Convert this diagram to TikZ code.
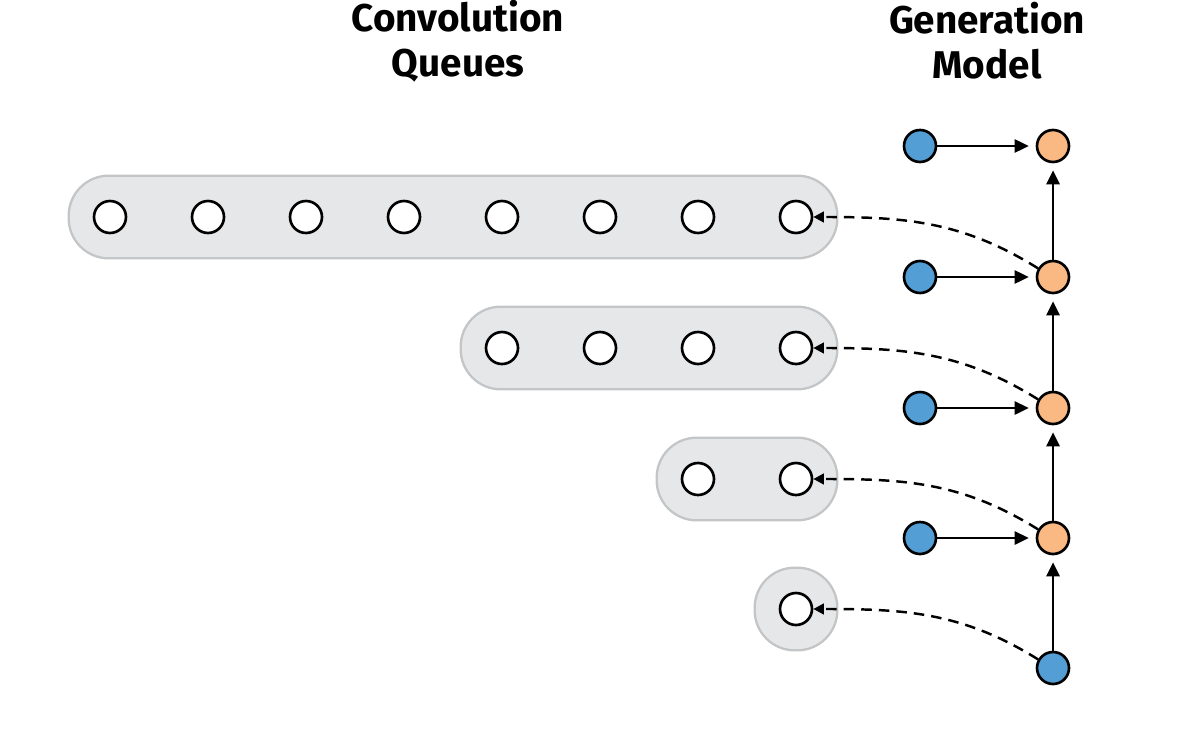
\documentclass[tikz,border=0pt]{standalone}
\usepackage{fontspec}
\setmainfont{Fira Sans}
\usetikzlibrary{arrows.meta, positioning, fit, backgrounds}
\definecolor{QF}{RGB}{230,231,233}
\definecolor{QE}{RGB}{196,197,199}
\definecolor{NB}{RGB}{84,158,214}
\definecolor{NO}{RGB}{250,184,130}

\begin{document}
\begin{tikzpicture}[
  cell/.style={draw=black, circle, fill=#1, minimum size=0.64cm,
               inner sep=0pt, line width=1.5pt},
  queue/.style={draw=QE, fill=QF, rounded corners=0.8cm,
                line width=1.3pt, inner sep=0.48cm},
  arr/.style={-{Triangle[length=8pt,width=7.5pt]}, line width=1.4pt,
              shorten >=4pt},
  carr/.style={-{Triangle[length=6pt,width=6pt]}, line width=1.4pt,
               dash pattern=on 6pt off 4pt},
  ttl/.style={font=\fontsize{22}{25.5}\selectfont\bfseries, align=center}
]
\useasboundingbox (0,0) rectangle (23.92,-15.1);

\node[ttl] (tq) at (9.16,-0.82)  {Convolution\\Queues};
\node[ttl] (tg) at (19.74,-0.82) {Generation\\Model};

% convolution queues
\foreach \i/\x in {1/2.2, 2/4.16, 3/6.12, 4/8.08, 5/10.04, 6/12.0, 7/13.96, 8/15.92}
  \node[cell=white] (qa\i) at (\x,-4.34) {};
\foreach \i/\x in {5/10.04, 6/12.0, 7/13.96, 8/15.92}
  \node[cell=white] (qb\i) at (\x,-6.96) {};
\foreach \i/\x in {7/13.96, 8/15.92}
  \node[cell=white] (qc\i) at (\x,-9.58) {};
\node[cell=white] (qd8) at (15.92,-12.18) {};

\begin{scope}[on background layer]
  \node[queue, fit=(qa1)(qa8)] (Qa) {};
  \node[queue, fit=(qb5)(qb8)] (Qb) {};
  \node[queue, fit=(qc7)(qc8)] (Qc) {};
  \node[queue, fit=(qd8)]      (Qd) {};
\end{scope}

% generation model
\node[cell=NB] (in1) at (18.4,-2.92)  {};
\node[cell=NB] (in2) at (18.4,-5.54)  {};
\node[cell=NB] (in3) at (18.4,-8.16)  {};
\node[cell=NB] (in4) at (18.4,-10.76) {};
\node[cell=NO] (h1)  at (21.06,-2.92)  {};
\node[cell=NO] (h2)  at (21.06,-5.54)  {};
\node[cell=NO] (h3)  at (21.06,-8.16)  {};
\node[cell=NO] (h4)  at (21.06,-10.76) {};
\node[cell=NB] (x0)  at (21.06,-13.36) {};

\draw[arr] (in1)--(h1);
\draw[arr] (in2)--(h2);
\draw[arr] (in3)--(h3);
\draw[arr] (in4)--(h4);
\draw[arr] (h2)--(h1);
\draw[arr] (h3)--(h2);
\draw[arr] (h4)--(h3);
\draw[arr] (x0)--(h4);

% queue updates
\draw[carr] (h2.150) to[out=148, in=0] (qa8);
\draw[carr] (h3.150) to[out=148, in=0] (qb8);
\draw[carr] (h4.150) to[out=148, in=0] (qc8);
\draw[carr] (x0.150) to[out=148, in=0] (qd8);
\end{tikzpicture}
\end{document}
